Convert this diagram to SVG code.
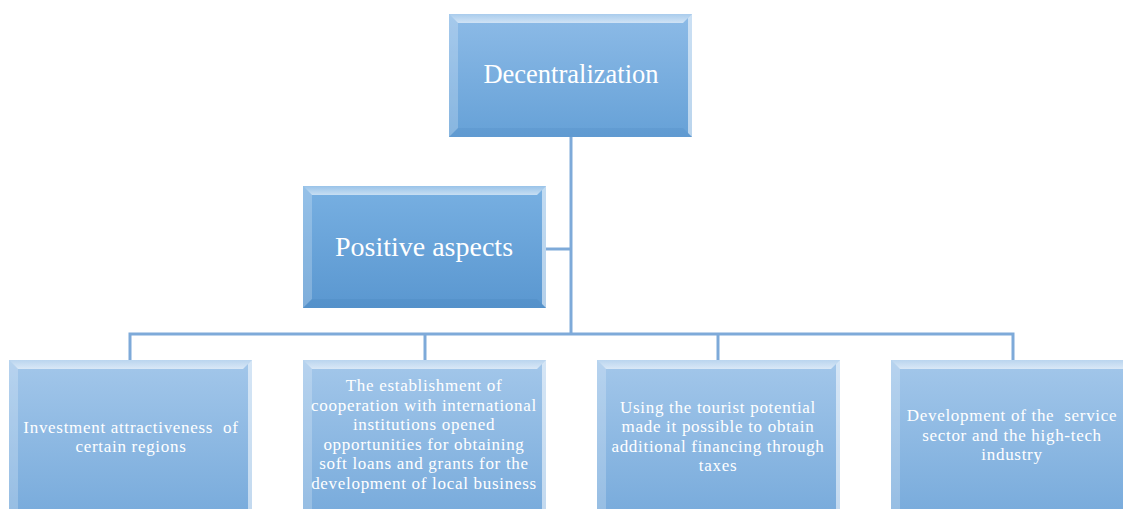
<svg xmlns="http://www.w3.org/2000/svg" width="1123" height="509" viewBox="0 0 1123 509">
<defs>
<linearGradient id="gTop" x1="0" y1="0" x2="0" y2="1"><stop offset="0" stop-color="#8dbbe7"/><stop offset="1" stop-color="#66a1d7"/></linearGradient>
<linearGradient id="gPos" x1="0" y1="0" x2="0" y2="1"><stop offset="0" stop-color="#78b0e2"/><stop offset="1" stop-color="#5a97d0"/></linearGradient>
<linearGradient id="gBot" x1="0" y1="0" x2="0" y2="1"><stop offset="0" stop-color="#a3c7ea"/><stop offset="1" stop-color="#77aadb"/></linearGradient>
<linearGradient id="gBevT" x1="0" y1="0" x2="0" y2="1"><stop offset="0" stop-color="#ffffff" stop-opacity="0.25"/><stop offset="1" stop-color="#ffffff" stop-opacity="0.6"/></linearGradient>
</defs>
<style>
.bt{fill:url(#gBevT)}
.bl{fill:#ffffff;fill-opacity:0.22}
.br{fill:#ffffff;fill-opacity:0.55}
.bb{fill:#1f4f86;fill-opacity:0.08}
.conn{stroke:#7eaad9;stroke-width:3;fill:none}
text{font-family:"Liberation Serif","Times New Roman",serif;fill:#ffffff;text-anchor:middle;white-space:pre}
.t1{font-size:26.5px}
.t2{font-size:28px}
.t3{font-size:17px;letter-spacing:0.7px}
</style>
<g id="connectors">
<path class="conn" d="M571 137 V334"/>
<path class="conn" d="M546 249 H571"/>
<path class="conn" d="M130 360 V334 H1013 V360"/>
<path class="conn" d="M425 334 V360"/>
<path class="conn" d="M718 334 V360"/>
</g>
<g id="node-decentralization">
<rect x="449" y="14" width="243" height="123" fill="url(#gTop)"/>
<polygon class="bt" points="449,14 692,14 683,23 458,23"/>
<polygon class="bl" points="449,14 458,23 458,128 449,137"/>
<polygon class="br" points="692,14 692,137 688,133 688,18"/>
<polygon class="bb" points="449,137 692,137 683,128 458,128"/>
<text class="t1" x="571" y="83">Decentralization</text>
</g>
<g id="node-positive">
<rect x="303" y="186" width="243" height="122" fill="url(#gPos)"/>
<polygon class="bt" points="303,186 546,186 537,195 312,195"/>
<polygon class="bl" points="303,186 312,195 312,299 303,308"/>
<polygon class="br" points="546,186 546,308 542,304 542,190"/>
<polygon class="bb" points="303,308 546,308 537,299 312,299"/>
<text class="t2" x="424" y="256">Positive aspects</text>
</g>
<g id="node-investment">
<rect x="9" y="360" width="243" height="160" fill="url(#gBot)"/>
<polygon class="bt" points="9,360 252,360 243,369 18,369"/>
<polygon class="bl" points="9,360 18,369 18,520 9,520"/>
<polygon class="br" points="252,360 252,520 248,520 248,364"/>
<text class="t3" x="131" y="433" xml:space="preserve">Investment attractiveness  of</text>
<text class="t3" x="131" y="452">certain regions</text>
</g>
<g id="node-cooperation">
<rect x="303" y="360" width="243" height="160" fill="url(#gBot)"/>
<polygon class="bt" points="303,360 546,360 537,369 312,369"/>
<polygon class="bl" points="303,360 312,369 312,520 303,520"/>
<polygon class="br" points="546,360 546,520 542,520 542,364"/>
<text class="t3" x="424" y="391">The establishment of</text>
<text class="t3" x="424" y="411">cooperation with international</text>
<text class="t3" x="424" y="430">institutions opened</text>
<text class="t3" x="424" y="450">opportunities for obtaining</text>
<text class="t3" x="424" y="469">soft loans and grants for the</text>
<text class="t3" x="424" y="489">development of local business</text>
</g>
<g id="node-tourist">
<rect x="597" y="360" width="243" height="160" fill="url(#gBot)"/>
<polygon class="bt" points="597,360 840,360 831,369 606,369"/>
<polygon class="bl" points="597,360 606,369 606,520 597,520"/>
<polygon class="br" points="840,360 840,520 836,520 836,364"/>
<text class="t3" x="718" y="413">Using the tourist potential</text>
<text class="t3" x="718" y="432">made it possible to obtain</text>
<text class="t3" x="718" y="452">additional financing through</text>
<text class="t3" x="718" y="471">taxes</text>
</g>
<g id="node-service">
<rect x="891" y="360" width="243" height="160" fill="url(#gBot)"/>
<polygon class="bt" points="891,360 1134,360 1125,369 900,369"/>
<polygon class="bl" points="891,360 900,369 900,520 891,520"/>
<text class="t3" x="1012" y="421" xml:space="preserve">Development of the  service</text>
<text class="t3" x="1012" y="441">sector and the high-tech</text>
<text class="t3" x="1012" y="460">industry</text>
</g>
</svg>
